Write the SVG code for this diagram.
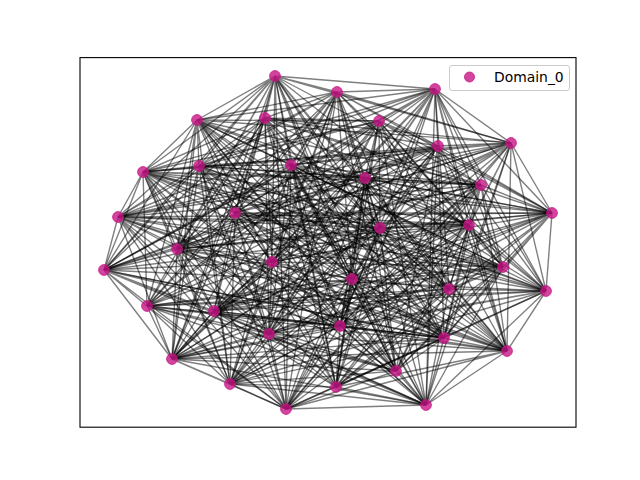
<svg xmlns="http://www.w3.org/2000/svg" width="640" height="480" viewBox="0 0 640 480">
<style>
.e{fill:none;stroke:#000;stroke-opacity:0.5;stroke-width:1.39}
.n circle,.lm{fill:#c71585;fill-opacity:0.8;stroke:#c71585;stroke-opacity:0.8;stroke-width:1}
.t{font-family:"DejaVu Sans","Liberation Sans",sans-serif;font-size:13.9px;fill:#000}
</style>
<rect x="0" y="0" width="640" height="480" fill="#fff"/>
<g id="edges">
<path class="e" d="M275 76L337 92M275 76L435 89M275 76L197 120M275 76L511 143M275 76L143 172M275 76L199 166M275 76L481 185M275 76L118 217M275 76L235 213M275 76L177 249M275 76L104 270M275 76L272 262M275 76L449 289M275 76L546 291M275 76L147 306M275 76L444 338M275 76L507 351M275 76L172 359M275 76L336 387M275 76L286 409M275 76L426 405"/>
<path class="e" d="M337 92L435 89M337 92L197 120M337 92L438 146M337 92L511 143M337 92L199 166M337 92L291 165M337 92L118 217M337 92L235 213M337 92L552 213M337 92L177 249M337 92L272 262M337 92L352 279M337 92L546 291M337 92L147 306M337 92L269 334M337 92L444 338M337 92L172 359M337 92L396 371M337 92L286 409M337 92L426 405"/>
<path class="e" d="M435 89L197 120M435 89L379 121M435 89L438 146M435 89L511 143M435 89L143 172M435 89L365 178M435 89L118 217M435 89L235 213M435 89L469 225M435 89L552 213M435 89L104 270M435 89L503 267M435 89L546 291M435 89L147 306M435 89L340 326M435 89L269 334M435 89L507 351M435 89L230 384M435 89L286 409M435 89L426 405"/>
<path class="e" d="M197 120L379 121M197 120L511 143M197 120L143 172M197 120L199 166M197 120L365 178M197 120L481 185M197 120L235 213M197 120L469 225M197 120L177 249M197 120L272 262M197 120L503 267M197 120L449 289M197 120L147 306M197 120L340 326M197 120L444 338M197 120L172 359M197 120L230 384M197 120L336 387M197 120L426 405"/>
<path class="e" d="M265 118L379 121M265 118L438 146M265 118L143 172M265 118L291 165M265 118L481 185M265 118L235 213M265 118L469 225M265 118L552 213M265 118L104 270M265 118L352 279M265 118L449 289M265 118L147 306M265 118L340 326M265 118L269 334M265 118L507 351M265 118L396 371M265 118L336 387M265 118L426 405"/>
<path class="e" d="M379 121L438 146M379 121L199 166M379 121L365 178M379 121L481 185M379 121L235 213M379 121L380 228M379 121L552 213M379 121L272 262M379 121L503 267M379 121L449 289M379 121L147 306M379 121L214 311M379 121L269 334M379 121L172 359M379 121L230 384M379 121L336 387M379 121L426 405"/>
<path class="e" d="M438 146L511 143M438 146L143 172M438 146L291 165M438 146L365 178M438 146L235 213M438 146L380 228M438 146L177 249M438 146L104 270M438 146L352 279M438 146L503 267M438 146L147 306M438 146L214 311M438 146L444 338M438 146L507 351M438 146L396 371M438 146L230 384M438 146L426 405"/>
<path class="e" d="M511 143L143 172M511 143L199 166M511 143L291 165M511 143L235 213M511 143L380 228M511 143L469 225M511 143L552 213M511 143L104 270M511 143L272 262M511 143L352 279M511 143L147 306M511 143L214 311M511 143L340 326M511 143L507 351M511 143L172 359M511 143L396 371M511 143L426 405"/>
<path class="e" d="M143 172L199 166M143 172L118 217M143 172L235 213M143 172L380 228M143 172L469 225M143 172L552 213M143 172L177 249M143 172L104 270M143 172L546 291M143 172L147 306M143 172L214 311M143 172L340 326M143 172L269 334M143 172L444 338M143 172L286 409M143 172L426 405"/>
<path class="e" d="M199 166L291 165M199 166L365 178M199 166L552 213M199 166L177 249M199 166L104 270M199 166L272 262M199 166L352 279M199 166L503 267M199 166L269 334M199 166L444 338M199 166L507 351M199 166L172 359M199 166L396 371M199 166L230 384"/>
<path class="e" d="M291 165L365 178M291 165L481 185M291 165L469 225M291 165L552 213M291 165L177 249M291 165L352 279M291 165L503 267M291 165L449 289M291 165L340 326M291 165L269 334M291 165L444 338M291 165L396 371M291 165L230 384M291 165L336 387"/>
<path class="e" d="M365 178L481 185M365 178L118 217M365 178L380 228M365 178L469 225M365 178L104 270M365 178L272 262M365 178L449 289M365 178L546 291M365 178L214 311M365 178L340 326M365 178L507 351M365 178L172 359M365 178L336 387M365 178L286 409"/>
<path class="e" d="M481 185L118 217M481 185L380 228M481 185L469 225M481 185L552 213M481 185L177 249M481 185L352 279M481 185L449 289M481 185L546 291M481 185L214 311M481 185L340 326M481 185L444 338M481 185L396 371M481 185L336 387M481 185L286 409"/>
<path class="e" d="M118 217L380 228M118 217L552 213M118 217L104 270M118 217L272 262M118 217L503 267M118 217L546 291M118 217L214 311M118 217L269 334M118 217L507 351M118 217L172 359M118 217L230 384M118 217L286 409"/>
<path class="e" d="M235 213L380 228M235 213L469 225M235 213L177 249M235 213L272 262M235 213L352 279M235 213L546 291M235 213L147 306M235 213L269 334M235 213L444 338M235 213L172 359M235 213L396 371M235 213L286 409"/>
<path class="e" d="M380 228L469 225M380 228L177 249M380 228L352 279M380 228L449 289M380 228L546 291M380 228L214 311M380 228L340 326M380 228L444 338M380 228L396 371M380 228L336 387M380 228L286 409"/>
<path class="e" d="M469 225L104 270M469 225L272 262M469 225L449 289M469 225L546 291M469 225L214 311M469 225L340 326M469 225L507 351M469 225L172 359M469 225L336 387M469 225L286 409"/>
<path class="e" d="M552 213L177 249M552 213L352 279M552 213L503 267M552 213L449 289M552 213L546 291M552 213L340 326M552 213L269 334M552 213L444 338M552 213L396 371M552 213L230 384M552 213L336 387"/>
<path class="e" d="M177 249L104 270M177 249L272 262M177 249L352 279M177 249L503 267M177 249L269 334M177 249L444 338M177 249L507 351M177 249L172 359M177 249L396 371M177 249L230 384"/>
<path class="e" d="M104 270L546 291M104 270L147 306M104 270L214 311M104 270L340 326M104 270L269 334M104 270L444 338M104 270L172 359M104 270L286 409M104 270L426 405"/>
<path class="e" d="M272 262L352 279M272 262L147 306M272 262L214 311M272 262L340 326M272 262L507 351M272 262L172 359M272 262L396 371M272 262L426 405"/>
<path class="e" d="M352 279L503 267M352 279L147 306M352 279L214 311M352 279L444 338M352 279L507 351M352 279L396 371M352 279L230 384M352 279L426 405"/>
<path class="e" d="M503 267L449 289M503 267L147 306M503 267L214 311M503 267L269 334M503 267L172 359M503 267L230 384M503 267L336 387M503 267L426 405"/>
<path class="e" d="M449 289L147 306M449 289L340 326M449 289L269 334M449 289L507 351M449 289L396 371M449 289L336 387M449 289L426 405"/>
<path class="e" d="M546 291L147 306M546 291L340 326M546 291L444 338M546 291L507 351M546 291L172 359M546 291L230 384M546 291L336 387M546 291L426 405"/>
<path class="e" d="M147 306L340 326M147 306L269 334M147 306L507 351M147 306L172 359M147 306L230 384M147 306L286 409M147 306L426 405"/>
<path class="e" d="M214 311L269 334M214 311L444 338M214 311L172 359M214 311L396 371M214 311L286 409M214 311L426 405"/>
<path class="e" d="M340 326L444 338M340 326L507 351M340 326L172 359M340 326L336 387M340 326L286 409M340 326L426 405"/>
<path class="e" d="M269 334L396 371M269 334L230 384M269 334L336 387M269 334L286 409M269 334L426 405"/>
<path class="e" d="M444 338L172 359M444 338L396 371M444 338L230 384M444 338L336 387M444 338L286 409M444 338L426 405"/>
<path class="e" d="M507 351L336 387M507 351L286 409M507 351L426 405"/>
<path class="e" d="M172 359L396 371M172 359L230 384M172 359L286 409M172 359L426 405"/>
<path class="e" d="M396 371L230 384M396 371L286 409M396 371L426 405"/>
<path class="e" d="M230 384L286 409M230 384L426 405"/>
<path class="e" d="M336 387L426 405"/>
<path class="e" d="M286 409L426 405"/>
<path class="e" d="M275 76L265 118M275 76L291 165M275 76L380 228M275 76L352 279M275 76L214 311M275 76L396 371"/>
<path class="e" d="M337 92L265 118M337 92L365 178M337 92L380 228M337 92L503 267M337 92L214 311M337 92L230 384"/>
<path class="e" d="M435 89L199 166M435 89L481 185M435 89L272 262M435 89L449 289M435 89L172 359M435 89L336 387"/>
<path class="e" d="M197 120L291 165M197 120L104 270M197 120L352 279M197 120L507 351M197 120L396 371"/>
<path class="e" d="M265 118L511 143M265 118L199 166M265 118L177 249M265 118L272 262M265 118L444 338M265 118L172 359"/>
<path class="e" d="M379 121L143 172M379 121L469 225M379 121L104 270M379 121L340 326M379 121L507 351"/>
<path class="e" d="M438 146L118 217M438 146L552 213M438 146L546 291M438 146L269 334M438 146L286 409"/>
<path class="e" d="M511 143L118 217M511 143L177 249M511 143L546 291M511 143L444 338M511 143L286 409"/>
<path class="e" d="M143 172L365 178M143 172L481 185M143 172L503 267M143 172L449 289M143 172L230 384M143 172L336 387"/>
<path class="e" d="M199 166L481 185M199 166L118 217M199 166L449 289M199 166L546 291M199 166L336 387M199 166L286 409"/>
<path class="e" d="M291 165L118 217M291 165L104 270M291 165L546 291M291 165L507 351M291 165L286 409"/>
<path class="e" d="M365 178L552 213M365 178L352 279M365 178L269 334M365 178L396 371"/>
<path class="e" d="M481 185L104 270M481 185L503 267M481 185L507 351M481 185L230 384"/>
<path class="e" d="M118 217L469 225M118 217L177 249M118 217L340 326M118 217L444 338"/>
<path class="e" d="M235 213L552 213M235 213L503 267M235 213L214 311M235 213L507 351M235 213L230 384"/>
<path class="e" d="M380 228L552 213M380 228L272 262M380 228L269 334M380 228L172 359"/>
<path class="e" d="M469 225L177 249M469 225L503 267M469 225L444 338M469 225L230 384"/>
<path class="e" d="M552 213L272 262M552 213L214 311M552 213L172 359"/>
<path class="e" d="M177 249L214 311M177 249L340 326"/>
<path class="e" d="M104 270L272 262M104 270L507 351"/>
<path class="e" d="M272 262L503 267M272 262L269 334M272 262L230 384"/>
<path class="e" d="M352 279L449 289M352 279L340 326M352 279L336 387"/>
<path class="e" d="M503 267L444 338M503 267L396 371"/>
<path class="e" d="M449 289L546 291M449 289L214 311M449 289L286 409"/>
<path class="e" d="M546 291L214 311M546 291L286 409"/>
<path class="e" d="M147 306L444 338M147 306L396 371"/>
<path class="e" d="M214 311L340 326M214 311L336 387"/>
<path class="e" d="M340 326L269 334M340 326L230 384"/>
<path class="e" d="M269 334L507 351M269 334L172 359"/>
<path class="e" d="M507 351L172 359"/>
<path class="e" d="M230 384L336 387"/>
</g>
<g class="n">
<g id="n1"><circle cx="275" cy="76" r="5.4"/></g>
<g id="n2"><circle cx="337" cy="92" r="5.4"/></g>
<g id="n3"><circle cx="435" cy="89" r="5.4"/></g>
<g id="n4"><circle cx="197" cy="120" r="5.4"/></g>
<g id="n5"><circle cx="265" cy="118" r="5.4"/></g>
<g id="n6"><circle cx="379" cy="121" r="5.4"/></g>
<g id="n7"><circle cx="438" cy="146" r="5.4"/></g>
<g id="n8"><circle cx="511" cy="143" r="5.4"/></g>
<g id="n9"><circle cx="143" cy="172" r="5.4"/></g>
<g id="n10"><circle cx="199" cy="166" r="5.4"/></g>
<g id="n11"><circle cx="291" cy="165" r="5.4"/></g>
<g id="n12"><circle cx="365" cy="178" r="5.4"/></g>
<g id="n13"><circle cx="481" cy="185" r="5.4"/></g>
<g id="n14"><circle cx="118" cy="217" r="5.4"/></g>
<g id="n15"><circle cx="235" cy="213" r="5.4"/></g>
<g id="n16"><circle cx="380" cy="228" r="5.4"/></g>
<g id="n17"><circle cx="469" cy="225" r="5.4"/></g>
<g id="n18"><circle cx="552" cy="213" r="5.4"/></g>
<g id="n19"><circle cx="177" cy="249" r="5.4"/></g>
<g id="n20"><circle cx="104" cy="270" r="5.4"/></g>
<g id="n21"><circle cx="272" cy="262" r="5.4"/></g>
<g id="n22"><circle cx="352" cy="279" r="5.4"/></g>
<g id="n23"><circle cx="503" cy="267" r="5.4"/></g>
<g id="n24"><circle cx="449" cy="289" r="5.4"/></g>
<g id="n25"><circle cx="546" cy="291" r="5.4"/></g>
<g id="n26"><circle cx="147" cy="306" r="5.4"/></g>
<g id="n27"><circle cx="214" cy="311" r="5.4"/></g>
<g id="n28"><circle cx="340" cy="326" r="5.4"/></g>
<g id="n29"><circle cx="269" cy="334" r="5.4"/></g>
<g id="n30"><circle cx="444" cy="338" r="5.4"/></g>
<g id="n31"><circle cx="507" cy="351" r="5.4"/></g>
<g id="n32"><circle cx="172" cy="359" r="5.4"/></g>
<g id="n33"><circle cx="396" cy="371" r="5.4"/></g>
<g id="n34"><circle cx="230" cy="384" r="5.4"/></g>
<g id="n35"><circle cx="336" cy="387" r="5.4"/></g>
<g id="n36"><circle cx="286" cy="409" r="5.4"/></g>
<g id="n37"><circle cx="426" cy="405" r="5.4"/></g>
</g>
<rect x="80" y="57.6" width="496" height="369.6" fill="none" stroke="#000" stroke-width="1.1"/>
<g id="legend">
<rect x="449.5" y="65.5" width="120" height="25" rx="2.5" fill="#fff" fill-opacity="0.8" stroke="#ccc" stroke-width="1"/>
<circle class="lm" cx="469.5" cy="77" r="5"/>
<text class="t" x="494" y="82">Domain_0</text>
</g>
</svg>
